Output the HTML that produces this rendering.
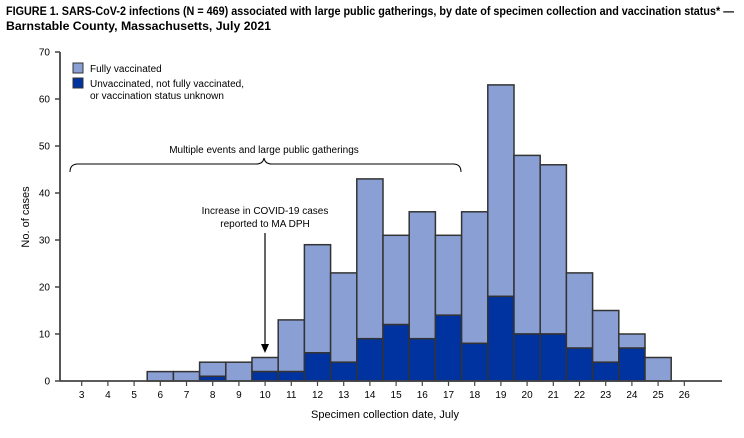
<!DOCTYPE html>
<html><head><meta charset="utf-8"><style>
body{margin:0;background:#fff;font-family:"Liberation Sans",sans-serif}
svg text{font-family:"Liberation Sans",sans-serif}
</style></head><body>
<svg width="744" height="433" xmlns="http://www.w3.org/2000/svg">
<text x="6" y="15" font-size="11.5" font-weight="bold" fill="#000" textLength="728" lengthAdjust="spacingAndGlyphs">FIGURE 1. SARS-CoV-2 infections (N = 469) associated with large public gatherings, by date of specimen collection and vaccination status* —</text>
<text x="6" y="30" font-size="11.5" font-weight="bold" fill="#000" textLength="265" lengthAdjust="spacingAndGlyphs">Barnstable County, Massachusetts, July 2021</text>
<g id="bars"></g>
<g id="axes"></g>
<rect x="73" y="63" width="10" height="10" fill="#8aa0d5" stroke="#333" stroke-width="1"/>
<text x="90" y="72" font-size="10">Fully vaccinated</text>
<rect x="73" y="78" width="10" height="10" fill="#0033a0" stroke="#333" stroke-width="1"/>
<text x="90" y="87" font-size="10">Unvaccinated, not fully vaccinated,</text>
<text x="90" y="99" font-size="10">or vaccination status unknown</text>
<text x="264" y="153" font-size="10" text-anchor="middle">Multiple events and large public gatherings</text>
<path d="M70,172 Q70,164 78,164 L256,164 Q263,164 264,158 Q265,164 272,164 L453,164 Q461,164 461,172" fill="none" stroke="#000" stroke-width="1"/>
<text x="265" y="214" font-size="10" text-anchor="middle">Increase in COVID-19 cases</text>
<text x="265" y="227" font-size="10" text-anchor="middle">reported to MA DPH</text>
<line x1="265" y1="233" x2="265" y2="346" stroke="#000" stroke-width="1.2"/>
<path d="M261,344 L269,344 L265,353 Z" fill="#000"/>
<text x="385" y="418" font-size="11" text-anchor="middle">Specimen collection date, July</text>
<text transform="translate(29,217) rotate(-90)" font-size="11" text-anchor="middle">No. of cases</text>
</svg>
<script>
const days=[6,7,8,9,10,11,12,13,14,15,16,17,18,19,20,21,22,23,24,25];
const totalCases=[2,2,4,4,5,13,29,23,43,31,36,31,36,63,48,46,23,15,10,5];
const unvaxCases=[0,0,1,0,2,2,6,4,9,12,9,14,8,18,10,10,7,4,7,0];
const xTicks=[3,4,5,6,7,8,9,10,11,12,13,14,15,16,17,18,19,20,21,22,23,24,25,26];
const yTicks=[0,10,20,30,40,50,60,70];
const NS="http://www.w3.org/2000/svg";
const X=d=>81.7+(d-3)*26.2, Y=v=>381-v*(329/70), W=26.2;
const bars=document.getElementById('bars'), axes=document.getElementById('axes');
function mk(p,tag,at){const e=document.createElementNS(NS,tag);for(const k in at)e.setAttribute(k,at[k]);p.appendChild(e);return e;}
days.forEach((d,i)=>{
 const x=X(d)-W/2;
 const a=mk(bars,'rect',{x:x,y:Y(totalCases[i]),width:W,height:Y(unvaxCases[i])-Y(totalCases[i]),fill:'#8aa0d5',stroke:'#333','stroke-width':1.5});
 
 
 if(unvaxCases[i]>0){
 const b=mk(bars,'rect',{x:x,y:Y(unvaxCases[i]),width:W,height:Y(0)-Y(unvaxCases[i]),fill:'#0033a0',stroke:'#333','stroke-width':1.5});
 
 
 }
});
const ya=mk(axes,'line',{x1:60,y1:Y(70),x2:60,y2:Y(0),stroke:'#444','stroke-width':1.8});


const xa=mk(axes,'line',{x1:60,y1:Y(0),x2:722,y2:Y(0),stroke:'#444','stroke-width':1.8});


yTicks.forEach(t=>{
 mk(axes,'line',{x1:55,x2:60,y1:Y(t),y2:Y(t),stroke:'#444','stroke-width':1.5});
 const tx=mk(axes,'text',{x:50,y:Y(t)+3.5,'font-size':10,'text-anchor':'end'});
 tx.textContent=t;
 
 
});
xTicks.forEach(t=>{
 mk(axes,'line',{x1:X(t),x2:X(t),y1:Y(0),y2:Y(0)+5,stroke:'#444','stroke-width':1.2});
 const tx=mk(axes,'text',{x:X(t),y:398,'font-size':10,'text-anchor':'middle'});
 tx.textContent=t;
 
 
});
</script>
</body></html>
